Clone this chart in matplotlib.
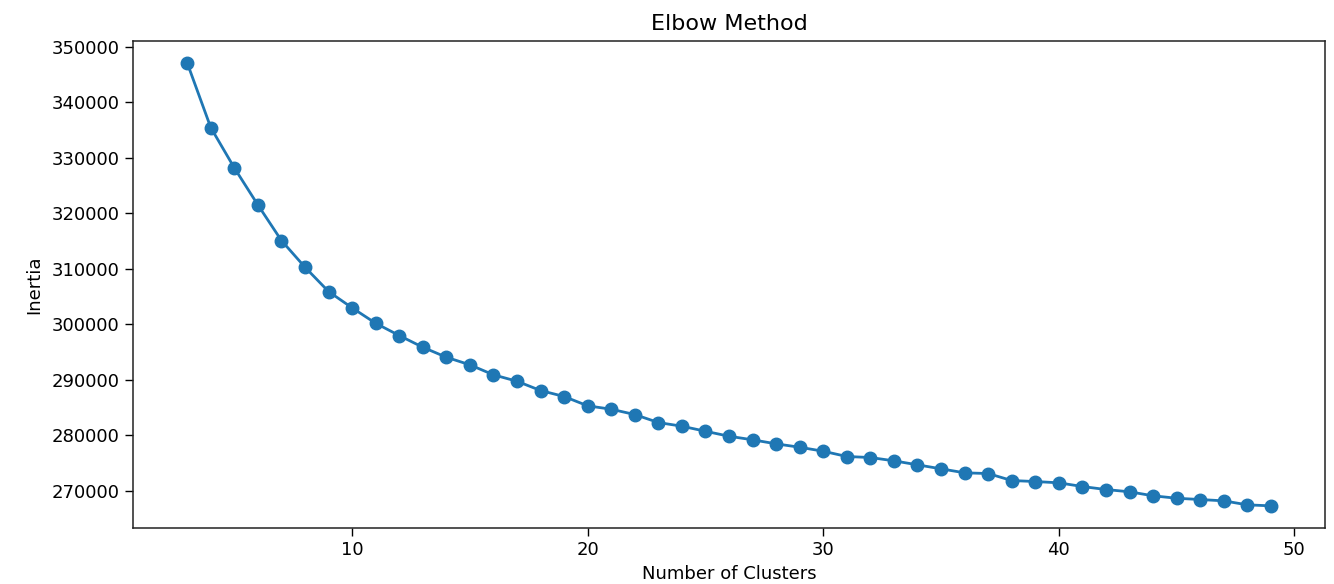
"""
Elbow Method: inertia vs number of clusters (k = 3..49).
Output: out.png
"""

import matplotlib
matplotlib.use("Agg")
import matplotlib.pyplot as plt

# k values and inertia
clusters = list(range(3, 50))
inertia = [
    347060, 335410, 328140, 321470, 315050, 310240, 305860, 302920,
    300140, 297930, 295820, 294020, 292650, 290850, 289690, 288020,
    286940, 285260, 284650, 283690, 282250, 281590, 280680, 279780,
    279140, 278410, 277800, 277080, 276130, 275950, 275350, 274630,
    273910, 273190, 273060, 271800, 271620, 271390, 270720, 270180,
    269770, 269050, 268610, 268380, 268140, 267420, 267240,
]

COLOR = "#1f77b4"

fig = plt.figure(figsize=(13.34, 5.84), dpi=100)
ax = fig.add_axes([0.0997, 0.0959, 0.8936, 0.8344])

ax.plot(clusters, inertia, marker="o", color=COLOR, linewidth=2.0, markersize=9)

ax.set_title("Elbow Method", fontsize=16, pad=8)
ax.set_xlabel("Number of Clusters", fontsize=13, labelpad=4)
ax.set_ylabel("Inertia", fontsize=13, labelpad=6)
ax.tick_params(labelsize=13, length=6, width=1.0)
for spine in ax.spines.values():
    spine.set_linewidth(1.1)
    spine.set_color("#222222")

fig.savefig("out.png", dpi=100)
plt.close(fig)
